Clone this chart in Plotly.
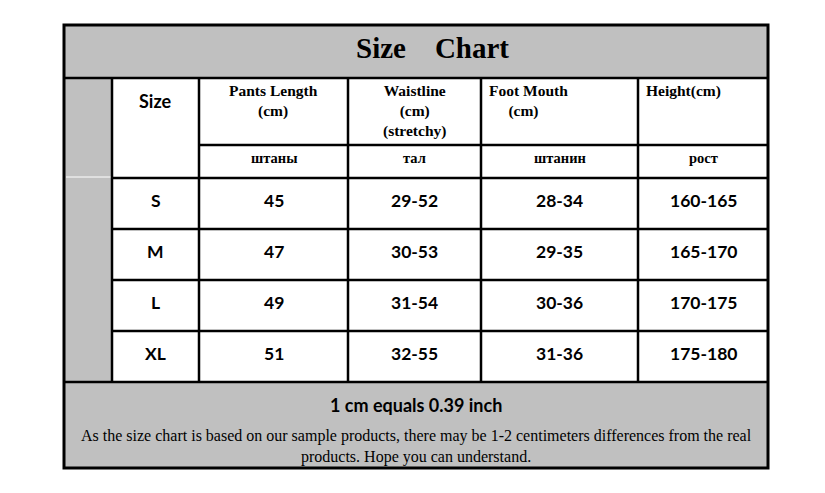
import plotly.graph_objects as go

# table content
title = "Size    Chart"
sizes = ["S", "M", "L", "XL"]
pants_length = ["45", "47", "49", "51"]
waistline = ["29-52", "30-53", "31-54", "32-55"]
foot_mouth = ["28-34", "29-35", "30-36", "31-36"]
height = ["160-165", "165-170", "170-175", "175-180"]
header_en = ["Pants Length<br>(cm)", "Waistline<br>(cm)<br>(stretchy)",
             "Foot Mouth<br>    (cm)", "Height(cm)"]
header_ru = ["штаны", "тал", "штанин", "рост"]
note_title = "1 cm equals 0.39 inch"
note_text = ("As the size chart is based on our sample products, there may be 1-2 centimeters "
             "differences from the real<br>products. Hope you can understand.")

# grid geometry (pixels)
x_left, x_right = 64, 768
col_edges = [112, 199, 348, 481, 638, 768]
y_top, y_title, y_sub, y_head = 25, 78, 145, 178
row_h = 51
y_rows = [y_head + i * row_h for i in range(len(sizes) + 1)]
y_bottom = 468

gray = "#c0c0c0"
serif = "Liberation Serif"
sans = "Lato"

shapes = []
def rect(x0, y0, x1, y1, color):
    shapes.append(dict(type="rect", xref="x", yref="y", x0=x0, y0=y0, x1=x1, y1=y1,
                       fillcolor=color, line=dict(width=0), layer="below"))

def line(x0, y0, x1, y1, w=2.5, color="black"):
    shapes.append(dict(type="line", xref="x", yref="y", x0=x0, y0=y0, x1=x1, y1=y1,
                       line=dict(color=color, width=w)))

rect(x_left, y_top, x_right, y_title, gray)
rect(x_left, y_title, col_edges[0], y_rows[-1], gray)
rect(x_left, y_rows[-1], x_right, y_bottom, gray)
# thin white break in the gray side column
line(x_left + 2, y_head - 1, col_edges[0], y_head - 1, 1, "white")

line(x_left, y_title, x_right, y_title)
line(col_edges[1], y_sub, x_right, y_sub)
for y in y_rows[:-1]:
    line(col_edges[0], y, x_right, y)
line(x_left, y_rows[-1], x_right, y_rows[-1])
for x in col_edges[:-1]:
    line(x, y_title, x, y_rows[-1])
shapes.append(dict(type="rect", xref="x", yref="y", x0=x_left, y0=y_top, x1=x_right, y1=y_bottom,
                   line=dict(color="black", width=3)))

ann = []
def text(x, y, s, size, family, bold=True, xanchor="center", yanchor="middle", align="center"):
    ann.append(dict(x=x, y=y, xref="x", yref="y", text=f"<b>{s}</b>" if bold else s,
                    showarrow=False, xanchor=xanchor, yanchor=yanchor, align=align,
                    font=dict(size=size, family=family, color="black")))

text(432, 48, title.replace(" ", "&nbsp;"), 29, serif)
text((col_edges[0] + col_edges[1]) / 2, 101, "Size", 18, sans)

centers = [(col_edges[i] + col_edges[i + 1]) / 2 for i in range(len(col_edges) - 1)]
for i, h in enumerate(header_en):
    h = h.replace("    ", "&nbsp;&nbsp;&nbsp;&nbsp;&nbsp;")
    if i < 2:
        text(centers[i + 1], 80, h, 15.5, serif, yanchor="top")
    else:
        text(col_edges[i + 1] + 6, 80, h, 15.5, serif, xanchor="left", yanchor="top", align="left")
for i, h in enumerate(header_ru):
    text(centers[i + 1], 158, h, 14.5, serif)

for r, row in enumerate(zip(sizes, pants_length, waistline, foot_mouth, height)):
    yc = (y_rows[r] + y_rows[r + 1]) / 2 - 3
    for c, val in enumerate(row):
        text(centers[c], yc, val, 17.5, sans)

text((x_left + x_right) / 2, 405, note_title, 18, sans)
text((x_left + x_right) / 2, 446.5, note_text, 16, serif, bold=False)

fig = go.Figure()
# the page body adds an 8px margin, so axis ranges start at 8 to keep pixel coordinates
fig.update_layout(
    width=825, height=493,
    margin=dict(l=0, r=0, t=0, b=0),
    paper_bgcolor="white", plot_bgcolor="white",
    xaxis=dict(range=[8, 833], visible=False, fixedrange=True),
    yaxis=dict(range=[501, 8], visible=False, fixedrange=True),
    shapes=shapes, annotations=ann, showlegend=False,
)
fig.write_html("out.html")
